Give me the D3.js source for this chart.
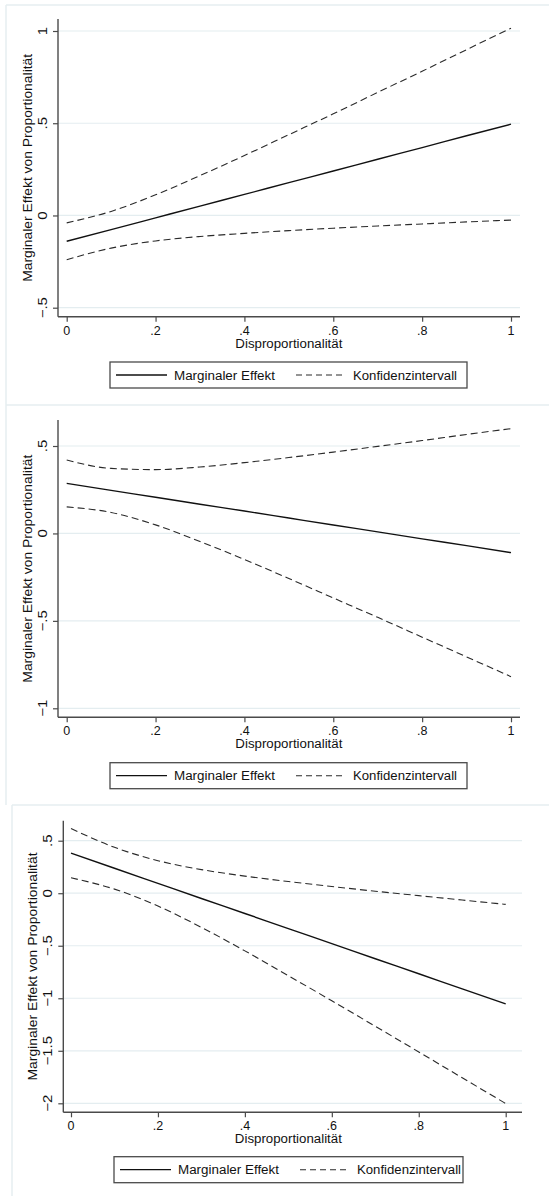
<!DOCTYPE html>
<html>
<head>
<meta charset="utf-8">
<script src="https://cdn.jsdelivr.net/npm/d3@7"></script>
<style>
  body { margin: 0; background: #fff; }
  text { font-family: "Liberation Sans", Arial, sans-serif; fill: #111; }
</style>
</head>
<body>
<svg id="svg" width="549" height="1196"></svg>
<script>
// x positions of the read-off points (Disproportionalität)
const xVals = [0, 0.1, 0.2, 0.3, 0.4, 0.5, 0.6, 0.7, 0.8, 0.9, 1];

// panel 1
const p1Effekt = [-0.14, -0.077, -0.013, 0.051, 0.114, 0.178, 0.241, 0.305, 0.368, 0.432, 0.495];
const p1Upper  = [-0.04, 0.022, 0.112, 0.216, 0.325, 0.438, 0.551, 0.667, 0.782, 0.899, 1.015];
const p1Lower  = [-0.24, -0.177, -0.138, -0.114, -0.097, -0.082, -0.069, -0.057, -0.046, -0.035, -0.025];

// panel 2
const p2Effekt = [0.286, 0.246, 0.207, 0.167, 0.128, 0.088, 0.048, 0.009, -0.031, -0.07, -0.11];
const p2Upper  = [0.42, 0.372, 0.365, 0.38, 0.405, 0.434, 0.465, 0.498, 0.531, 0.566, 0.599];
const p2Lower  = [0.152, 0.12, 0.049, -0.046, -0.149, -0.258, -0.369, -0.48, -0.593, -0.706, -0.819];

// panel 3
const p3Effekt = [0.381, 0.238, 0.094, -0.05, -0.193, -0.337, -0.48, -0.624, -0.767, -0.911, -1.054];
const p3Upper  = [0.615, 0.437, 0.31, 0.225, 0.163, 0.111, 0.064, 0.019, -0.023, -0.065, -0.106];
const p3Lower  = [0.147, 0.039, -0.122, -0.325, -0.549, -0.785, -1.024, -1.267, -1.511, -1.757, -2.002];

const xTicks = [0, 0.2, 0.4, 0.6, 0.8, 1];
const xTickLabels = ["0", ".2", ".4", ".6", ".8", "1"];
const p1YTicks = [-0.5, 0, 0.5, 1];
const p1YLabels = ["\u2212.5", "0", ".5", "1"];
const p2YTicks = [-1, -0.5, 0, 0.5];
const p2YLabels = ["\u22121", "\u2212.5", "0", ".5"];
const p3YTicks = [-2, -1.5, -1, -0.5, 0, 0.5];
const p3YLabels = ["\u22122", "\u22121.5", "\u22121", "\u2212.5", "0", ".5"];

const xTitle = "Disproportionalität";
const yTitle = "Marginaler Effekt von Proportionalität";
const legendLabels = ["Marginaler Effekt", "Konfidenzintervall"];

const panels = [
  { frame: [6, 5], axisX: 58, axisTop: 19, axisY: 316.7, right: 520, xr: [66.7, 511],
    yDomain: [-0.5, 1], yRange: [307.7, 31], yTicks: p1YTicks, yLabels: p1YLabels,
    legend: [110, 362, 357, 26], effekt: p1Effekt, upper: p1Upper, lower: p1Lower },
  { frame: [6, 405], axisX: 58, axisTop: 420, axisY: 717.3, right: 520, xr: [66.7, 511],
    yDomain: [-1, 0.5], yRange: [708.3, 446], yTicks: p2YTicks, yLabels: p2YLabels,
    legend: [110, 762.7, 357, 26], effekt: p2Effekt, upper: p2Upper, lower: p2Lower },
  { frame: [12, 805], axisX: 63.3, axisTop: 820.7, axisY: 1112.3, right: 522, xr: [71, 505.7],
    yDomain: [-2, 0.5], yRange: [1103.3, 840.7], yTicks: p3YTicks, yLabels: p3YLabels,
    legend: [114, 1156.7, 349, 26], effekt: p3Effekt, upper: p3Upper, lower: p3Lower }
];

const svg = d3.select("#svg");
const frameCol = "#e6eef0";
const gridCol = "#e4edf0";
const axisCol = "#4a4a4a";

panels.forEach((p, i) => {
  const g = svg.append("g");
  // faint graph region border (top + left)
  const nextTop = i < panels.length - 1 ? panels[i + 1].frame[1] : 1196;
  g.append("line").attr("x1", p.frame[0]).attr("x2", 549).attr("y1", p.frame[1]).attr("y2", p.frame[1])
    .attr("stroke", frameCol).attr("stroke-width", 1.5);
  g.append("line").attr("x1", p.frame[0]).attr("x2", p.frame[0]).attr("y1", p.frame[1]).attr("y2", nextTop)
    .attr("stroke", frameCol).attr("stroke-width", 1.5);

  const x = d3.scaleLinear().domain([0, 1]).range(p.xr);
  const y = d3.scaleLinear().domain(p.yDomain).range(p.yRange);

  // gridlines
  g.selectAll(".grid").data(p.yTicks).enter().append("line")
    .attr("x1", p.axisX).attr("x2", p.right)
    .attr("y1", d => y(d)).attr("y2", d => y(d))
    .attr("stroke", gridCol).attr("stroke-width", 1.2);

  // y axis
  const yAxis = d3.axisLeft(y).tickValues(p.yTicks).tickSize(5).tickFormat("");
  const ya = g.append("g").attr("transform", `translate(${p.axisX},0)`).call(yAxis);
  ya.select(".domain").remove();
  ya.selectAll("line").attr("stroke", axisCol).attr("stroke-width", 1.2);
  g.append("line").attr("x1", p.axisX).attr("x2", p.axisX).attr("y1", p.axisTop).attr("y2", p.axisY)
    .attr("stroke", axisCol).attr("stroke-width", 1.4);
  // rotated tick labels are a bit stretched along their length in the original
  g.selectAll(".ylab").data(p.yTicks).enter().append("text")
    .attr("transform", d => `translate(${p.axisX - 11},${y(d)}) scale(1,1.2) rotate(-90)`)
    .attr("text-anchor", "middle").attr("font-size", 12.5)
    .text((d, k) => p.yLabels[k]);

  // x axis
  const xAxis = d3.axisBottom(x).tickValues(xTicks).tickSize(5).tickFormat("");
  const xa = g.append("g").attr("transform", `translate(0,${p.axisY})`).call(xAxis);
  xa.select(".domain").remove();
  xa.selectAll("line").attr("stroke", axisCol).attr("stroke-width", 1.2);
  g.append("line").attr("x1", p.axisX).attr("x2", p.right).attr("y1", p.axisY).attr("y2", p.axisY)
    .attr("stroke", axisCol).attr("stroke-width", 1.4);
  g.selectAll(".xlab").data(xTicks).enter().append("text")
    .attr("x", d => x(d)).attr("y", p.axisY + 18)
    .attr("text-anchor", "middle").attr("font-size", 12.5)
    .text((d, k) => xTickLabels[k]);

  // axis titles
  g.append("text").attr("x", (p.xr[0] + p.xr[1]) / 2).attr("y", p.axisY + 31)
    .attr("text-anchor", "middle").attr("font-size", 12.5)
    .attr("textLength", 107).attr("lengthAdjust", "spacingAndGlyphs")
    .text(xTitle);
  g.append("text")
    .attr("transform", `translate(${p.axisX - 26},${(p.axisTop + p.axisY) / 2}) rotate(-90)`)
    .attr("text-anchor", "middle").attr("font-size", 12.5)
    .attr("textLength", 228).attr("lengthAdjust", "spacingAndGlyphs")
    .text(yTitle);

  // lines
  const line = d3.line().x((d, k) => x(xVals[k])).y(d => y(d)).curve(d3.curveMonotoneX);
  [p.upper, p.lower].forEach(s => {
    g.append("path").attr("d", line(s)).attr("fill", "none")
      .attr("stroke", "#2a2a2a").attr("stroke-width", 1.1).attr("stroke-dasharray", "7,4");
  });
  g.append("path").attr("d", line(p.effekt)).attr("fill", "none")
    .attr("stroke", "#111").attr("stroke-width", 1.4);

  // legend
  const [lx, ly, lw, lh] = p.legend;
  const lg = g.append("g").attr("transform", `translate(${lx},${ly})`);
  lg.append("rect").attr("width", lw).attr("height", lh)
    .attr("fill", "#fff").attr("stroke", axisCol).attr("stroke-width", 1.3);
  lg.append("line").attr("x1", 6).attr("x2", 57).attr("y1", lh / 2).attr("y2", lh / 2)
    .attr("stroke", "#111").attr("stroke-width", 1.3);
  lg.append("text").attr("x", 64).attr("y", lh / 2 + 4.5).attr("font-size", 12.5)
    .attr("textLength", 101).attr("lengthAdjust", "spacingAndGlyphs").text(legendLabels[0]);
  lg.append("line").attr("x1", 186).attr("x2", 233).attr("y1", lh / 2).attr("y2", lh / 2)
    .attr("stroke", "#2a2a2a").attr("stroke-width", 1.1).attr("stroke-dasharray", "6,4");
  lg.append("text").attr("x", 243).attr("y", lh / 2 + 4.5).attr("font-size", 12.5)
    .attr("textLength", 104).attr("lengthAdjust", "spacingAndGlyphs").text(legendLabels[1]);
});
</script>
</body>
</html>
